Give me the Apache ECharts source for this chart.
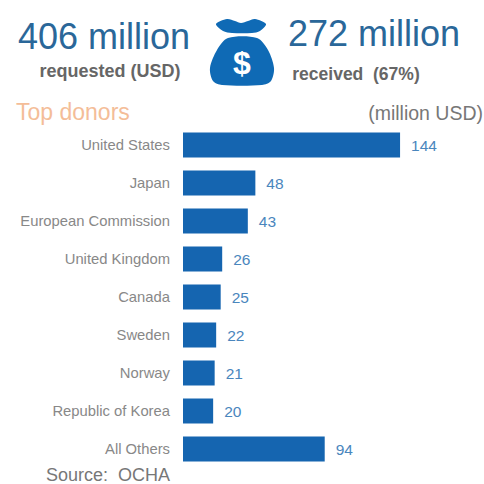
<!DOCTYPE html>
<html><head><meta charset="utf-8"><style>html,body{margin:0;padding:0;background:#fff}#c{width:484px;height:484px}</style>
<script src="https://cdn.jsdelivr.net/npm/echarts@6/dist/echarts.min.js"></script></head>
<body><div id="c"></div><script>
const categories=["United States","Japan","European Commission","United Kingdom","Canada","Sweden","Norway","Republic of Korea","All Others"];
const values=[144,48,43,26,25,22,21,20,94];
const chart=echarts.init(document.getElementById('c'),null,{renderer:'svg'});
const blue='#1565b0';
const bag='#0f6ab5';
const F='Liberation Sans';
const t=(x,y,text,size,color,align,weight)=>({type:'text',x,y,style:{text,font:`${weight||'normal'} ${size}px "${F}"`,fill:color,textAlign:align||'left',textVerticalAlign:'middle'}});
chart.setOption({animation:false,
grid:{left:183,top:126,width:300,height:342},
xAxis:{type:'value',min:0,max:199,show:false},
yAxis:{type:'category',inverse:true,data:categories,axisLine:{show:false},axisTick:{show:false},axisLabel:{fontFamily:F,fontSize:14.8,color:'#888',margin:13}},
series:[{type:'bar',data:values,barWidth:25,itemStyle:{color:blue},label:{show:true,position:'right',distance:11,color:'#4a86bd',fontFamily:F,fontSize:15.5}}],
graphic:[
t(104,36,'406 million',36,'#2a6799','center'),
t(374,33,'272 million',36,'#2a6799','center'),
t(110,71,'requested (USD)',18,'#666','center','bold'),
t(356,74,'received  (67%)',17.5,'#666','center','bold'),
t(16,112,'Top donors',23,'#f4bd98'),
t(483,113,'(million USD)',19.5,'#777','right'),
t(46,474.5,'Source:  OCHA',18,'#777'),
{type:'polygon',shape:{smooth:0.3,points:[[216,24],[227,19],[235,21],[241,23],[248,21],[255,19],[266,24],[260,31],[252,33],[232,33],[223,31]]},style:{fill:bag}},
{type:'polygon',shape:{smooth:0.3,points:[[228,38],[257,38],[268,50],[274,68],[271,81],[262,85],[222,85],[213,81],[210,68],[217,50]]},style:{fill:bag}},
t(242,63,'$',32,'#fff','center','bold')
]});
</script></body></html>
